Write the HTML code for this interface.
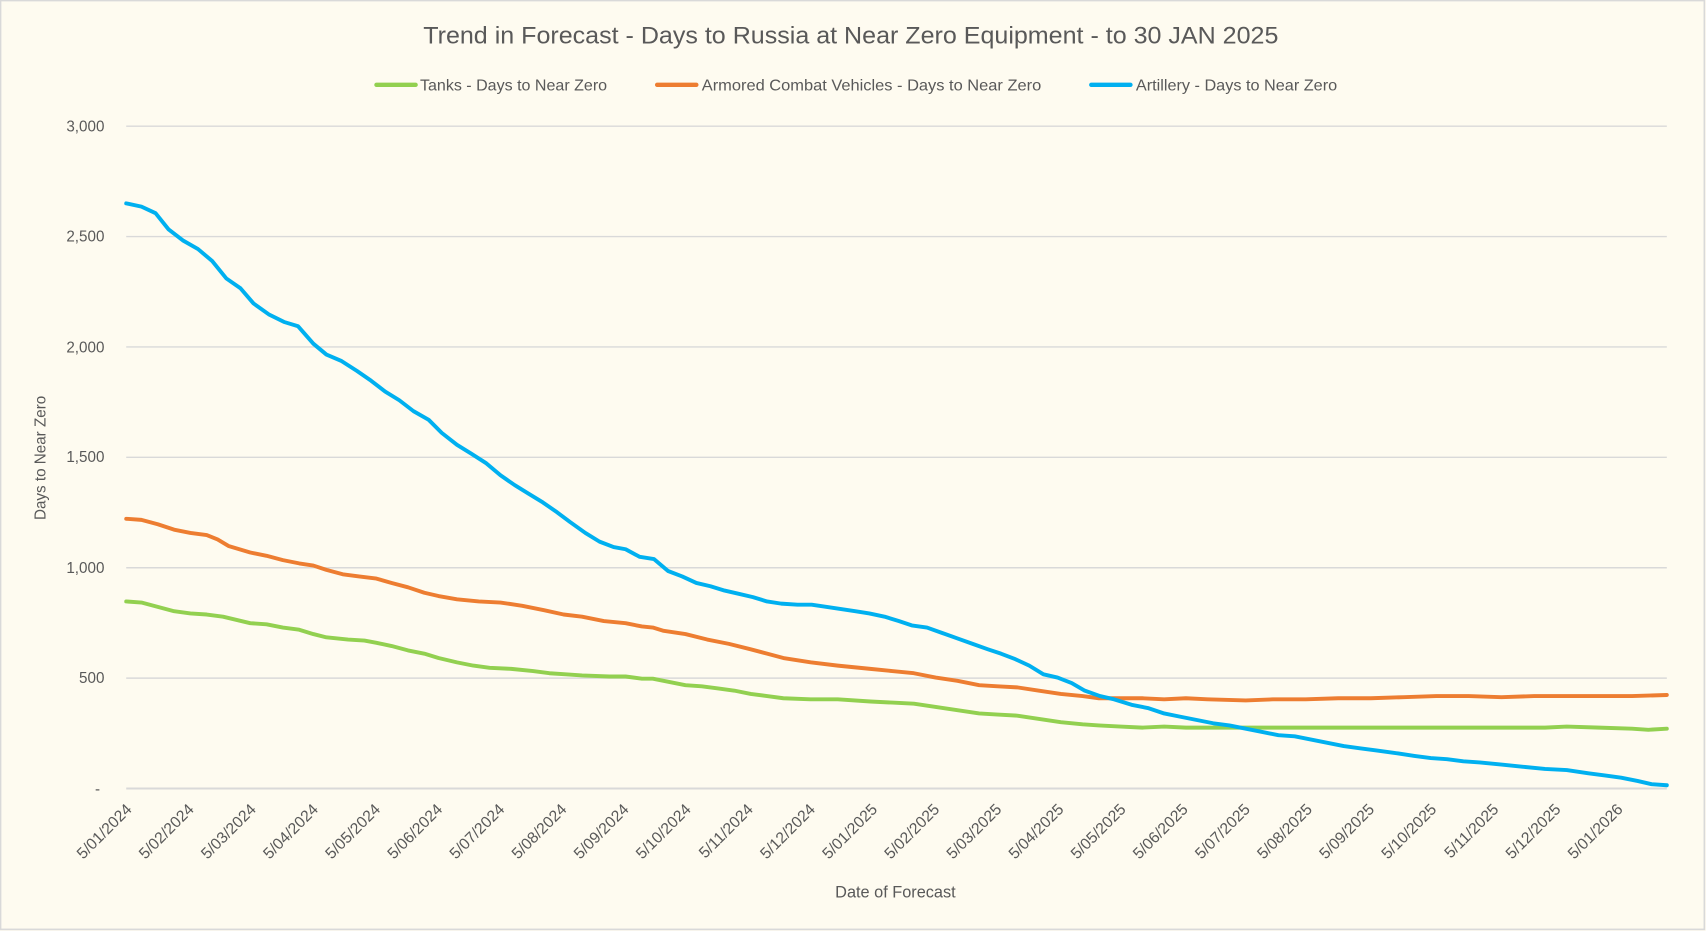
<!DOCTYPE html>
<html><head><meta charset="utf-8"><style>
html,body{margin:0;padding:0;background:#fefbf0;}
svg{display:block;}
text{font-family:"Liberation Sans",sans-serif;fill:#595959;}
</style></head><body>
<svg width="1706" height="931" viewBox="0 0 1568 856" preserveAspectRatio="none" xmlns="http://www.w3.org/2000/svg">
<rect x="0.5" y="0.5" width="1566" height="854" fill="#fefbf0" stroke="#d9d9d9" stroke-width="1.5"/>
<text x="389" y="40" font-size="22" textLength="786" lengthAdjust="spacingAndGlyphs">Trend in Forecast - Days to Russia at Near Zero Equipment - to 30 JAN 2025</text>
<g stroke-width="4" stroke-linecap="round">
<line x1="346" y1="78" x2="382" y2="78" stroke="#92d050"/>
<line x1="604" y1="78" x2="640" y2="78" stroke="#ed7d31"/>
<line x1="1003" y1="78" x2="1039" y2="78" stroke="#00b0f0"/>
</g>
<g font-size="14">
<text x="386" y="83" textLength="172" lengthAdjust="spacingAndGlyphs">Tanks - Days to Near Zero</text>
<text x="645" y="83" textLength="312" lengthAdjust="spacingAndGlyphs">Armored Combat Vehicles - Days to Near Zero</text>
<text x="1044" y="83" textLength="185" lengthAdjust="spacingAndGlyphs">Artillery - Days to Near Zero</text>
</g>
<g stroke="#d9d9d9" stroke-width="1.3">
<line x1="116" y1="116" x2="1532" y2="116"/>
<line x1="116" y1="217.5" x2="1532" y2="217.5"/>
<line x1="116" y1="319" x2="1532" y2="319"/>
<line x1="116" y1="420.5" x2="1532" y2="420.5"/>
<line x1="116" y1="522" x2="1532" y2="522"/>
<line x1="116" y1="623.5" x2="1532" y2="623.5"/>
<line x1="116" y1="725" x2="1532" y2="725" stroke-width="1.8"/>
</g>
<g font-size="14" text-anchor="end">
<text x="96" y="121">3,000</text>
<text x="96" y="222">2,500</text>
<text x="96" y="324">2,000</text>
<text x="96" y="425">1,500</text>
<text x="96" y="527">1,000</text>
<text x="96" y="628">500</text>
<text x="92" y="730">-</text>
</g>
<text transform="translate(42,421) rotate(-90)" font-size="14" text-anchor="middle">Days to Near Zero</text>
<text x="823" y="825" font-size="15" text-anchor="middle">Date of Forecast</text>
<g fill="none" stroke-width="3.6" stroke-linejoin="round" stroke-linecap="round">
<polyline stroke="#92d050" points="116,553 130,554 145,558 160,562 175,564 190,565 205,567 230,573 245,574 260,577 275,579 288,583 300,586 320,588 335,589 346,591 360,594 375,598 390,601 403,605 420,609 435,612 450,614 470,615 490,617 505,619 520,620 535,621 560,622 575,622 590,624 600,624 615,627 630,630 645,631 660,633 675,635 690,638 705,640 720,642 745,643 770,643 800,645 820,646 840,647 860,650 880,653 900,656 917,657 935,658 955,661 975,664 995,666 1010,667 1030,668 1050,669 1070,668 1090,669 1145,669 1420,669 1440,668 1470,669 1500,670 1515,671 1532,670"/>
<polyline stroke="#ed7d31" points="116,477 130,478 145,482 160,487 175,490 190,492 200,496 210,502 230,508 245,511 260,515 275,518 288,520 300,524 315,528 330,530 346,532 360,536 375,540 390,545 403,548 420,551 440,553 460,554 480,557 500,561 518,565 535,567 555,571 575,573 590,576 600,577 610,580 630,583 650,588 670,592 690,597 705,601 720,605 745,609 770,612 800,615 820,617 840,619 860,623 880,626 900,630 917,631 935,632 955,635 975,638 995,640 1010,642 1030,642 1050,642 1070,643 1090,642 1110,643 1145,644 1170,643 1200,643 1230,642 1260,642 1290,641 1320,640 1350,640 1380,641 1410,640 1440,640 1460,640 1500,640 1532,639"/>
<polyline stroke="#00b0f0" points="116,187 130,190 143,196 155,211 168,221 182,229 195,240 208,256 221,265 233,279 247,289 261,296 274,300 288,316 300,326 314,332 328,341 341,350 354,360 367,368 380,378 394,386 406,398 420,409 433,417 447,426 460,437 473,446 486,454 499,462 512,471 524,480 538,490 551,498 564,503 575,505 588,512 601,514 614,525 627,530 640,536 653,539 666,543 679,546 692,549 705,553 718,555 733,556 746,556 760,558 773,560 786,562 799,564 813,567 826,571 838,575 852,577 866,582 880,587 894,592 908,597 920,601 933,606 946,612 959,620 972,623 985,628 997,635 1011,640 1024,643 1040,648 1055,651 1070,656 1085,659 1100,662 1115,665 1130,667 1145,670 1160,673 1175,676 1190,677 1205,680 1220,683 1235,686 1250,688 1265,690 1280,692 1300,695 1315,697 1330,698 1345,700 1360,701 1380,703 1400,705 1420,707 1440,708 1460,711 1475,713 1490,715 1505,718 1518,721 1532,722"/>
</g>
<g font-size="14.5" text-anchor="end">
<text transform="translate(122,745) rotate(-45)">5/01/2024</text>
<text transform="translate(179.1,745) rotate(-45)">5/02/2024</text>
<text transform="translate(236.2,745) rotate(-45)">5/03/2024</text>
<text transform="translate(293.3,745) rotate(-45)">5/04/2024</text>
<text transform="translate(350.4,745) rotate(-45)">5/05/2024</text>
<text transform="translate(407.5,745) rotate(-45)">5/06/2024</text>
<text transform="translate(464.6,745) rotate(-45)">5/07/2024</text>
<text transform="translate(521.7,745) rotate(-45)">5/08/2024</text>
<text transform="translate(578.8,745) rotate(-45)">5/09/2024</text>
<text transform="translate(635.9,745) rotate(-45)">5/10/2024</text>
<text transform="translate(693,745) rotate(-45)">5/11/2024</text>
<text transform="translate(750.1,745) rotate(-45)">5/12/2024</text>
<text transform="translate(807.2,745) rotate(-45)">5/01/2025</text>
<text transform="translate(864.3,745) rotate(-45)">5/02/2025</text>
<text transform="translate(921.4,745) rotate(-45)">5/03/2025</text>
<text transform="translate(978.5,745) rotate(-45)">5/04/2025</text>
<text transform="translate(1035.6,745) rotate(-45)">5/05/2025</text>
<text transform="translate(1092.7,745) rotate(-45)">5/06/2025</text>
<text transform="translate(1149.8,745) rotate(-45)">5/07/2025</text>
<text transform="translate(1206.9,745) rotate(-45)">5/08/2025</text>
<text transform="translate(1264,745) rotate(-45)">5/09/2025</text>
<text transform="translate(1321.1,745) rotate(-45)">5/10/2025</text>
<text transform="translate(1378.2,745) rotate(-45)">5/11/2025</text>
<text transform="translate(1435.3,745) rotate(-45)">5/12/2025</text>
<text transform="translate(1492.4,745) rotate(-45)">5/01/2026</text>
</g>
</svg>
</body></html>
